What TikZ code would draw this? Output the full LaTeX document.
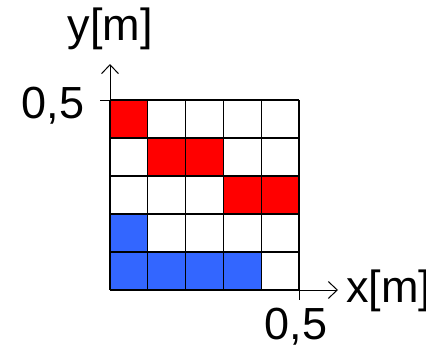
\documentclass[tikz,border=0pt]{standalone}
\usepackage{fontspec}
\setmainfont{Liberation Sans}
\usetikzlibrary{arrows.meta}
\definecolor{cellred}{RGB}{255,0,0}
\definecolor{cellblue}{RGB}{51,102,255}
\tikzset{
  gridline/.style={line width=1.3pt, black},
  axis/.style={line width=1pt, -{Straight Barb[length=9pt,width=17pt]}},
  tickline/.style={line width=1pt},
  lbl/.style={inner sep=0pt, font=\fontsize{45}{50}\selectfont},
}
\begin{document}
\begin{tikzpicture}[x=1pt,y=-1pt]
\useasboundingbox (0,0) rectangle (426,348);
\def\cw{37.8}
\def\ch{38}
% fills
\fill[cellred] (110,100) rectangle ++(\cw,\ch);
\fill[cellred] (110+\cw,100+\ch) rectangle ++(2*\cw,\ch);
\fill[cellred] (110+3*\cw,100+2*\ch) rectangle ++(2*\cw,\ch);
\fill[cellblue] (110,100+3*\ch) rectangle ++(\cw,\ch);
\fill[cellblue] (110,100+4*\ch) rectangle ++(4*\cw,\ch);
% grid
\foreach \i in {0,...,5} {
  \draw[gridline] (110+\i*\cw,100) -- (110+\i*\cw,290);
  \draw[gridline] (110,100+\i*\ch) -- (299,100+\i*\ch);
}
% axes
\coordinate (O) at (110,290);
\coordinate (ytip) at (110,64);
\coordinate (xtip) at (338,290);
\draw[axis] (O) -- (ytip);
\draw[axis] (299,290) -- (xtip);
\draw[tickline] (100,100) -- (110,100);
\draw[tickline] (299,290) -- (299,300);
% labels
\node[lbl, anchor=base] (ylab) at (110,40) {y[m]};
\node[lbl, anchor=base] (yval) at (53,118) {0,5};
\node[lbl, anchor=base west] (xlab) at (346,302) {x[m]};
\node[lbl, anchor=base] (xval) at (296,339) {0,5};
\end{tikzpicture}
\end{document}
